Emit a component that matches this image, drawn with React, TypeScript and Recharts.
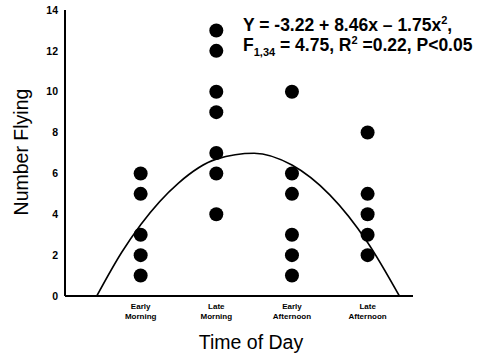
import React from 'react';
import { ComposedChart, XAxis, YAxis, Scatter, Line } from 'recharts';

const categories = ['Early Morning', 'Late Morning', 'Early Afternoon', 'Late Afternoon'];
const categoryX = [1, 2, 3, 4];
const earlyMorning = [6, 5, 3, 2, 1];
const lateMorning = [13, 12, 10, 9, 7, 6, 4];
const earlyAfternoon = [10, 6, 5, 3, 2, 1];
const lateAfternoon = [8, 5, 4, 3, 2];
const yTicks = [0, 2, 4, 6, 8, 10, 12, 14];

// fitted curve
const curveX = [0.42, 0.75, 1, 1.5, 2, 2.5, 3, 3.5, 4, 4.42];
const curveY = [0, 2.14, 3.49, 5.53, 6.7, 6.99, 6.41, 4.95, 2.62, 0];

const groups = [earlyMorning, lateMorning, earlyAfternoon, lateAfternoon];
const scatterData = groups.flatMap((vals, i) => vals.map((v) => ({ x: categoryX[i], y: v })));
const curveData = curveX.map((x, i) => ({ x, y: curveY[i] }));

const FONT = '"Liberation Sans", Arial, Helvetica, sans-serif';

const XTick = (props: any) => {
  const { x, y, payload } = props;
  const idx = categoryX.indexOf(payload.value);
  const words = (categories[idx] || '').split(' ');
  return (
    <text x={x} y={y} textAnchor="middle" fontFamily={FONT} fontWeight="bold" fontSize={8} fill="#000">
      <tspan x={x} dy={5}>{words[0]}</tspan>
      <tspan x={x} dy={10}>{words[1]}</tspan>
    </text>
  );
};

const Dot = (props: any) => <circle cx={props.cx} cy={props.cy} r={7} fill="#000" />;

const small = { fontSize: 11, lineHeight: 0 };

export default function App() {
  return (
    <div style={{ position: 'absolute', left: 0, top: 0, width: 489, height: 354, background: '#fff', fontFamily: FONT }}>
      <ComposedChart width={489} height={354} margin={{ top: 10, right: 76, bottom: 28, left: 35 }}>
        <XAxis
          type="number"
          dataKey="x"
          domain={[0, 4.6]}
          ticks={categoryX}
          tickLine={false}
          axisLine={{ stroke: '#000', strokeWidth: 2 }}
          tick={<XTick />}
          height={30}
          allowDataOverflow
        />
        <YAxis
          type="number"
          dataKey="y"
          domain={[0, 14]}
          ticks={yTicks}
          tickLine={false}
          tickSize={5}
          tickMargin={2}
          axisLine={{ stroke: '#000', strokeWidth: 2 }}
          tick={{ fill: '#000', fontSize: 10.5, fontWeight: 'bold', fontFamily: FONT }}
          width={30}
          allowDataOverflow
        />
        <Line
          data={curveData}
          dataKey="y"
          type="monotone"
          stroke="#000"
          strokeWidth={1.6}
          dot={false}
          activeDot={false}
          isAnimationActive={false}
        />
        <Scatter data={scatterData} dataKey="y" fill="#000" shape={<Dot />} isAnimationActive={false} />
      </ComposedChart>
      <div
        style={{
          position: 'absolute',
          left: 21,
          top: 152,
          transform: 'translate(-50%, -50%) rotate(-90deg)',
          fontSize: 19.5,
          whiteSpace: 'nowrap',
          color: '#000',
        }}
      >
        Number Flying
      </div>
      <div
        style={{
          position: 'absolute',
          left: 251,
          top: 331,
          transform: 'translateX(-50%)',
          fontSize: 19.5,
          whiteSpace: 'nowrap',
          color: '#000',
        }}
      >
        Time of Day
      </div>
      <div
        style={{
          position: 'absolute',
          left: 243,
          top: 15,
          fontSize: 17.5,
          fontWeight: 'bold',
          lineHeight: '20px',
          whiteSpace: 'nowrap',
          color: '#000',
        }}
      >
        <div>
          Y = -3.22 + 8.46x – 1.75x<sup style={small}>2</sup>,
        </div>
        <div>
          F<sub style={small}>1,34</sub> = 4.75, R<sup style={small}>2</sup> =0.22, P&lt;0.05
        </div>
      </div>
    </div>
  );
}
